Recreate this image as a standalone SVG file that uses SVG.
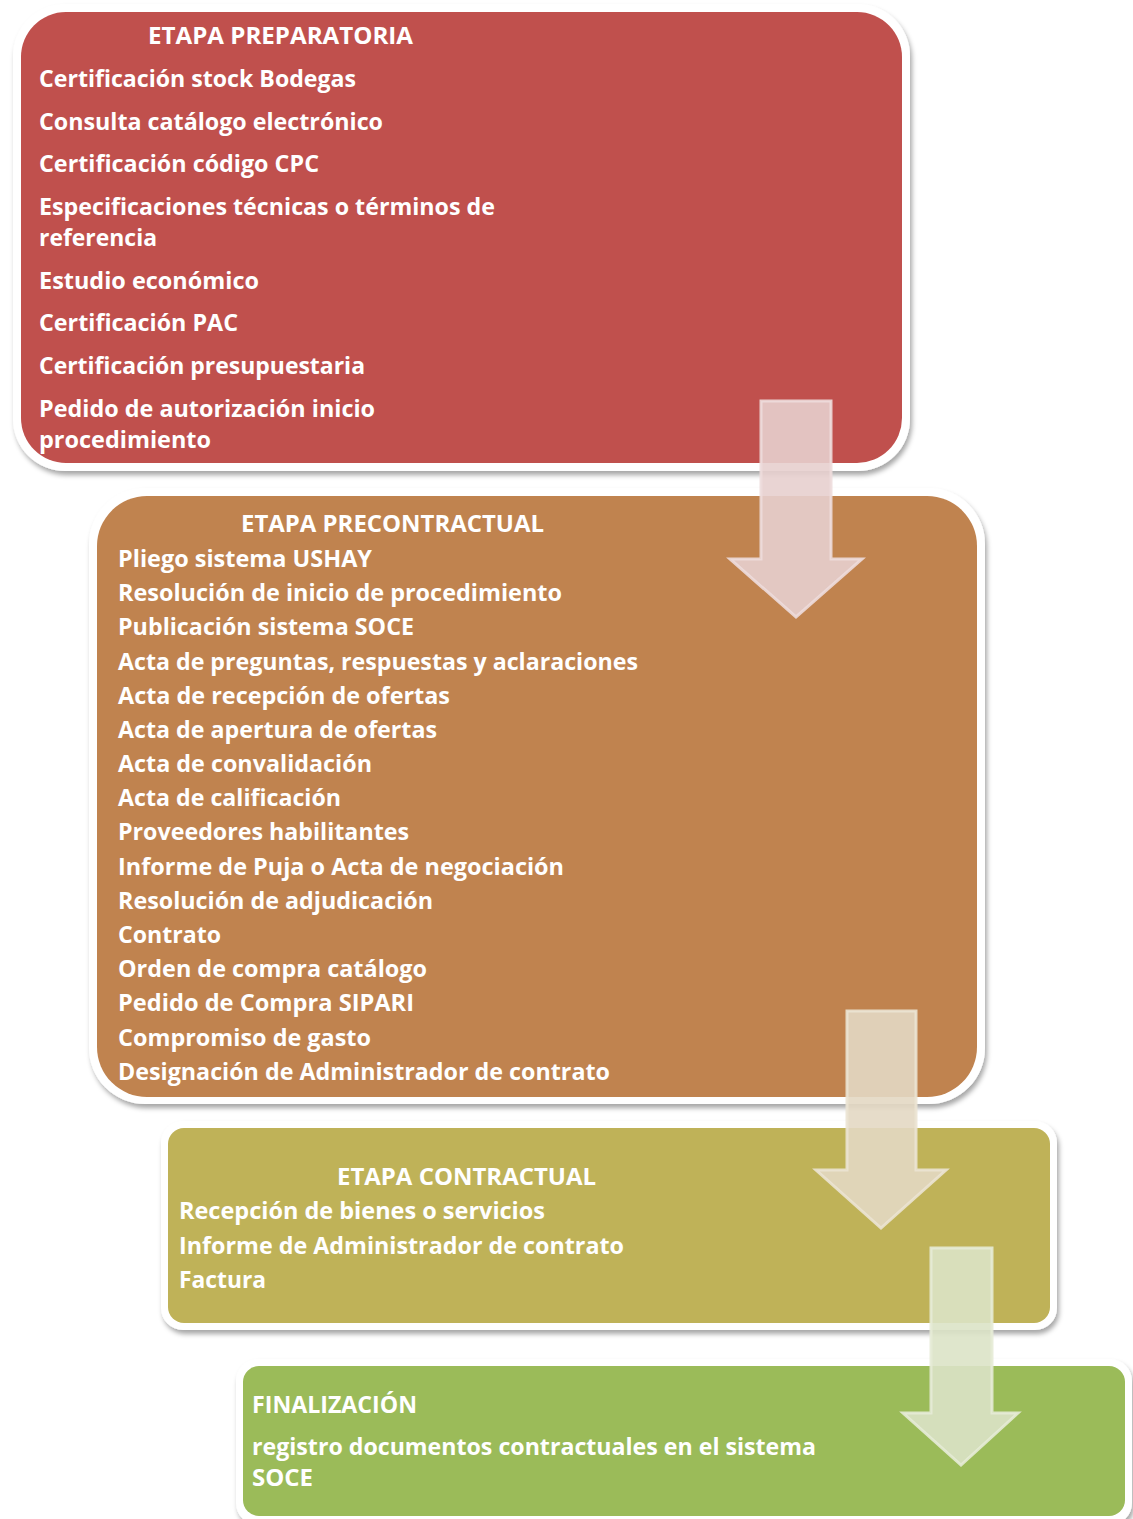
<svg xmlns="http://www.w3.org/2000/svg" width="1133" height="1519" viewBox="0 0 1133 1519">
  <defs>
    <filter id="shadow" x="-5%" y="-5%" width="110%" height="115%">
      <feDropShadow dx="2" dy="4" stdDeviation="2.5" flood-color="#000" flood-opacity="0.35"/>
    </filter>
    <style>
      .frame { fill: #ffffff; filter: url(#shadow); }
      .t { font-family: "Open Sans", "Noto Sans", "Liberation Sans", sans-serif; font-weight: bold; font-size: 23px; fill: #ffffff; }
      .arrow { stroke-width: 3; stroke-linejoin: miter; }
      .a1 { fill: #e7cfce; fill-opacity: 0.9; stroke: #eddcdb; stroke-opacity: 0.9; }
      .a2 { fill: #e3d8c3; fill-opacity: 0.9; stroke: #ebe3d3; stroke-opacity: 0.9; }
      .a3 { fill: #dbe3c7; fill-opacity: 0.9; stroke: #e5ebd6; stroke-opacity: 0.9; }
    </style>
  </defs>

  <!-- Stage 1: preparatory -->
  <g id="etapa-preparatoria">
    <rect class="frame" x="13" y="4" width="897" height="467" rx="52"/>
    <rect x="21" y="12" width="881" height="451" rx="45" fill="#c0504d"/>
    <text class="t" x="148" y="44" textLength="265" lengthAdjust="spacingAndGlyphs">ETAPA PREPARATORIA</text>
    <text class="t" x="39" y="87" textLength="317" lengthAdjust="spacingAndGlyphs">Certificación stock Bodegas</text>
    <text class="t" x="39" y="130" textLength="344" lengthAdjust="spacingAndGlyphs">Consulta catálogo electrónico</text>
    <text class="t" x="39" y="172" textLength="280" lengthAdjust="spacingAndGlyphs">Certificación código CPC</text>
    <text class="t" x="39" y="215" textLength="456" lengthAdjust="spacingAndGlyphs">Especificaciones técnicas o términos de</text>
    <text class="t" x="39" y="246" textLength="118" lengthAdjust="spacingAndGlyphs">referencia</text>
    <text class="t" x="39" y="289" textLength="220" lengthAdjust="spacingAndGlyphs">Estudio económico</text>
    <text class="t" x="39" y="331" textLength="199" lengthAdjust="spacingAndGlyphs">Certificación PAC</text>
    <text class="t" x="39" y="374" textLength="326" lengthAdjust="spacingAndGlyphs">Certificación presupuestaria</text>
    <text class="t" x="39" y="417" textLength="336" lengthAdjust="spacingAndGlyphs">Pedido de autorización inicio</text>
    <text class="t" x="39" y="448" textLength="172" lengthAdjust="spacingAndGlyphs">procedimiento</text>
  </g>

  <!-- Stage 2: pre-contractual -->
  <g id="etapa-precontractual">
    <rect class="frame" x="89" y="488" width="896" height="616" rx="56"/>
    <rect x="97" y="496" width="880" height="601" rx="50" fill="#c0834f"/>
    <text class="t" x="241" y="532" textLength="303" lengthAdjust="spacingAndGlyphs">ETAPA PRECONTRACTUAL</text>
    <text class="t" x="118" y="567" textLength="254" lengthAdjust="spacingAndGlyphs">Pliego sistema USHAY</text>
    <text class="t" x="118" y="601" textLength="444" lengthAdjust="spacingAndGlyphs">Resolución de inicio de procedimiento</text>
    <text class="t" x="118" y="635" textLength="296" lengthAdjust="spacingAndGlyphs">Publicación sistema SOCE</text>
    <text class="t" x="118" y="670" textLength="520" lengthAdjust="spacingAndGlyphs">Acta de preguntas, respuestas y aclaraciones</text>
    <text class="t" x="118" y="704" textLength="332" lengthAdjust="spacingAndGlyphs">Acta de recepción de ofertas</text>
    <text class="t" x="118" y="738" textLength="319" lengthAdjust="spacingAndGlyphs">Acta de apertura de ofertas</text>
    <text class="t" x="118" y="772" textLength="254" lengthAdjust="spacingAndGlyphs">Acta de convalidación</text>
    <text class="t" x="118" y="806" textLength="223" lengthAdjust="spacingAndGlyphs">Acta de calificación</text>
    <text class="t" x="118" y="840" textLength="291" lengthAdjust="spacingAndGlyphs">Proveedores habilitantes</text>
    <text class="t" x="118" y="875" textLength="446" lengthAdjust="spacingAndGlyphs">Informe de Puja o Acta de negociación</text>
    <text class="t" x="118" y="909" textLength="315" lengthAdjust="spacingAndGlyphs">Resolución de adjudicación</text>
    <text class="t" x="118" y="943" textLength="103" lengthAdjust="spacingAndGlyphs">Contrato</text>
    <text class="t" x="118" y="977" textLength="309" lengthAdjust="spacingAndGlyphs">Orden de compra catálogo</text>
    <text class="t" x="118" y="1011" textLength="296" lengthAdjust="spacingAndGlyphs">Pedido de Compra SIPARI</text>
    <text class="t" x="118" y="1046" textLength="253" lengthAdjust="spacingAndGlyphs">Compromiso de gasto</text>
    <text class="t" x="118" y="1080" textLength="492" lengthAdjust="spacingAndGlyphs">Designación de Administrador de contrato</text>
  </g>

  <!-- Stage 3: contractual -->
  <g id="etapa-contractual">
    <rect class="frame" x="161" y="1121" width="896" height="209" rx="22"/>
    <rect x="168" y="1128" width="882" height="195" rx="16" fill="#bfb258"/>
    <text class="t" x="337" y="1185" textLength="259" lengthAdjust="spacingAndGlyphs">ETAPA CONTRACTUAL</text>
    <text class="t" x="179" y="1219" textLength="366" lengthAdjust="spacingAndGlyphs">Recepción de bienes o servicios</text>
    <text class="t" x="179" y="1254" textLength="445" lengthAdjust="spacingAndGlyphs">Informe de Administrador de contrato</text>
    <text class="t" x="179" y="1288" textLength="87" lengthAdjust="spacingAndGlyphs">Factura</text>
  </g>

  <!-- Stage 4: closing -->
  <g id="finalizacion">
    <rect class="frame" x="236" y="1359" width="896" height="166" rx="22"/>
    <rect x="243" y="1366" width="882" height="150" rx="16" fill="#9bbb59"/>
    <text class="t" x="252" y="1413" textLength="165" lengthAdjust="spacingAndGlyphs">FINALIZACIÓN</text>
    <text class="t" x="252" y="1455" textLength="564" lengthAdjust="spacingAndGlyphs">registro documentos contractuales en el sistema</text>
    <text class="t" x="252" y="1486" textLength="61" lengthAdjust="spacingAndGlyphs">SOCE</text>
  </g>

  <!-- Down arrows linking the stages -->
  <g id="connectors">
    <polygon class="arrow a1" points="761,401 831,401 831,559 862,559 796,617 730,559 761,559"/>
    <polygon class="arrow a2" points="847,1011 916,1011 916,1170 946,1170 881,1228 816,1170 847,1170"/>
    <polygon class="arrow a3" points="931,1248 992,1248 992,1413 1018,1413 961,1465 903,1413 931,1413"/>
  </g>
</svg>
